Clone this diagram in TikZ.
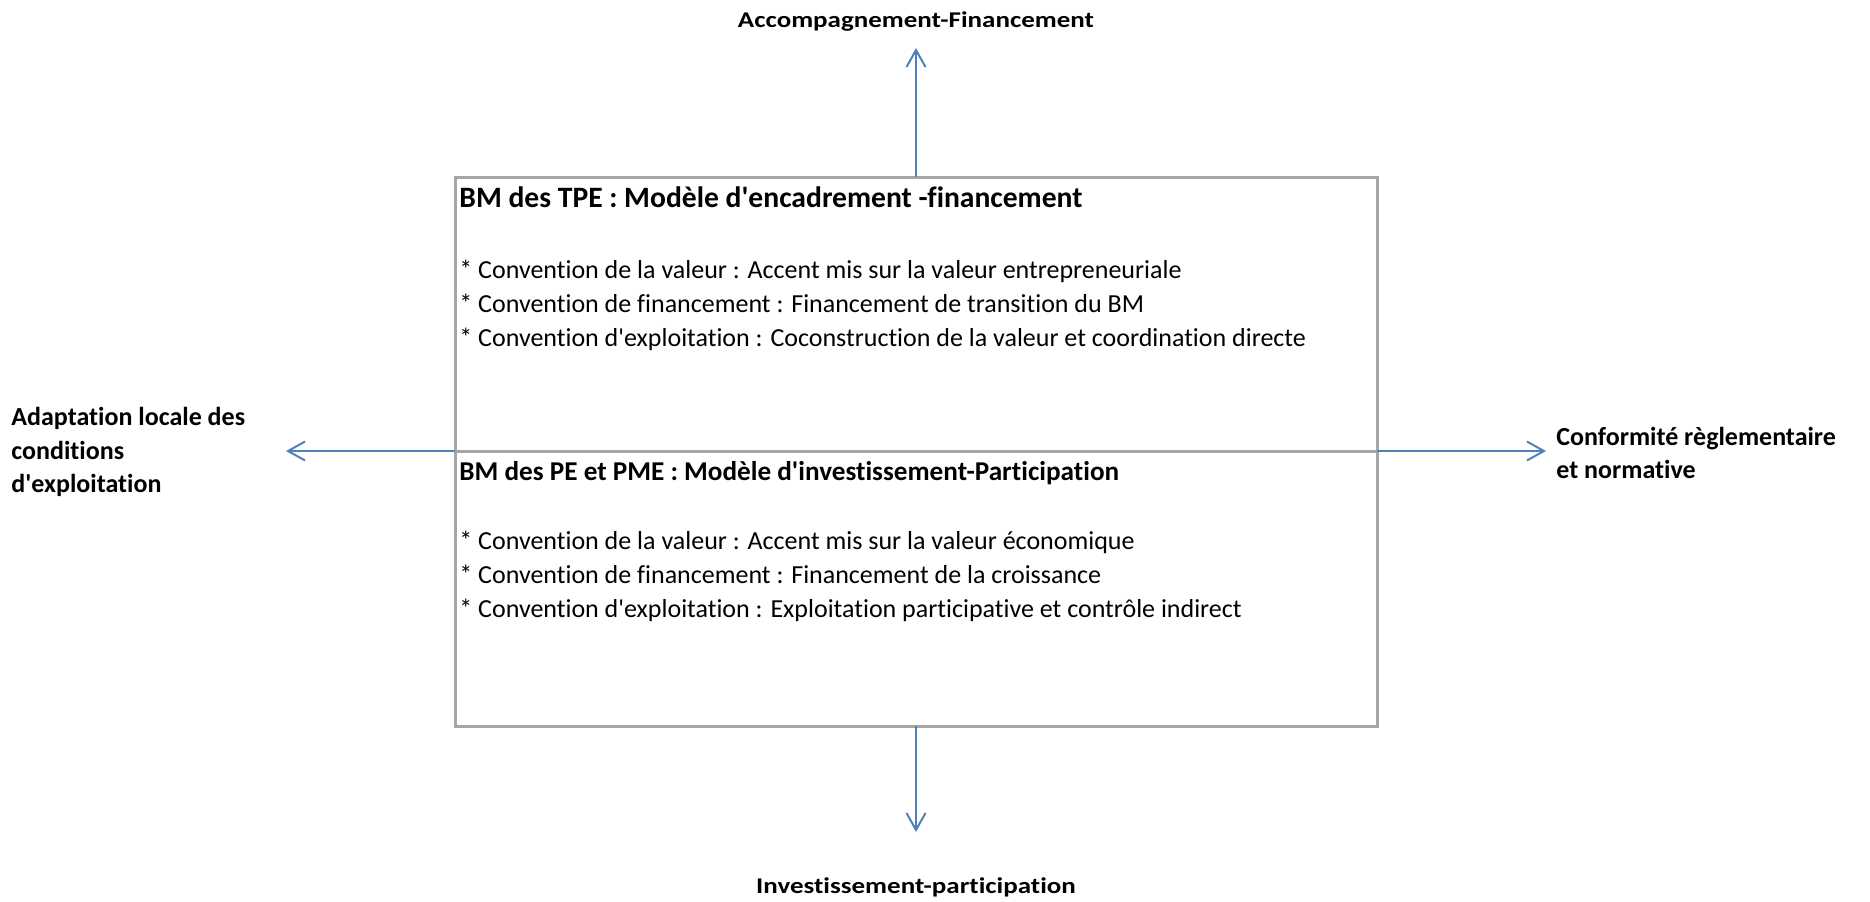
\documentclass[tikz,border=0pt]{standalone}
\usepackage{fontspec}
\setmainfont{Carlito}[Ligatures=NoCommon]
\usetikzlibrary{arrows.meta}
\definecolor{bleufleche}{RGB}{79,129,189}
\definecolor{grisbord}{RGB}{166,166,166}
\newcommand{\apos}{\textquotesingle}
\newcommand{\etire}[1]{\scalebox{1.2}[1]{#1}}
\tikzset{
  cadre/.style={draw=grisbord, line width=1.5pt, outer sep=0pt, minimum width=461pt},
  fleche/.style={draw=bleufleche, line width=1pt, -{Straight Barb[length=8.5pt,width=9.5pt]}},
  titre/.style={font=\fontsize{#1}{17}\selectfont\bfseries, anchor=base west, inner sep=0pt},
  ligne/.style={anchor=base west, inner sep=0pt},
  legende/.style={font=\fontsize{13}{16.8}\selectfont\bfseries, align=left, inner sep=0pt},
  axe/.style={font=\fontsize{11.25}{14}\selectfont\bfseries, anchor=base, inner sep=0pt}
}
\begin{document}
\begin{tikzpicture}[x=0.5pt, y=-0.5pt]
    \fontsize{13}{17.5}\selectfont
    \useasboundingbox (0,0) rectangle (1870,901);
    \node[cadre, minimum height=137pt] (tpe) at (916,314) {};
    \node[cadre, minimum height=137.5pt] (pme) at (916,588.5) {};

    \node[titre=14.8] (titretpe) at (459,207) {BM des TPE : Modèle d\apos encadrement -financement};
    \foreach \i/\t in {0/{* Convention de la valeur : Accent mis sur la valeur entrepreneuriale},
                       1/{* Convention de financement : Financement de transition du BM},
                       2/{* Convention d\apos exploitation : Coconstruction de la valeur et coordination directe}}
        {\node[ligne] (tpe\i) at (459,278+34*\i) {\t};}

    \node[titre=13.6] (titrepme) at (459,480) {BM des PE et PME : Modèle d\apos investissement-Participation};
    \foreach \i/\t in {0/{* Convention de la valeur : Accent mis sur la valeur économique},
                       1/{* Convention de financement : Financement de la croissance},
                       2/{* Convention d\apos exploitation : Exploitation participative et contrôle indirect}}
        {\node[ligne] (pme\i) at (459,549+34*\i) {\t};}

    \node[axe] (haut) at (916,27.3) {\etire{Accompagnement-Financement}};
    \node[axe] (bas) at (916,893.3) {\etire{Investissement-participation}};
    \node[legende, anchor=west] (gauche) at (11,452) {Adaptation locale des\\conditions\\d\apos exploitation};
    \node[legende, anchor=west] (droite) at (1556,453) {Conformité règlementaire\\et normative};

    \coordinate (hautfin) at (916,48);
    \coordinate (basfin) at (916,832);
    \coordinate (gauchefin) at (286,451);
    \coordinate (droitefin) at (1546,451);

    \draw[fleche] (tpe.north) -- (hautfin);
    \draw[fleche] (pme.south) -- (basfin);
    \draw[fleche] (tpe.south west) -- (gauchefin);
    \draw[fleche] (tpe.south east) -- (droitefin);
\end{tikzpicture}
\end{document}
